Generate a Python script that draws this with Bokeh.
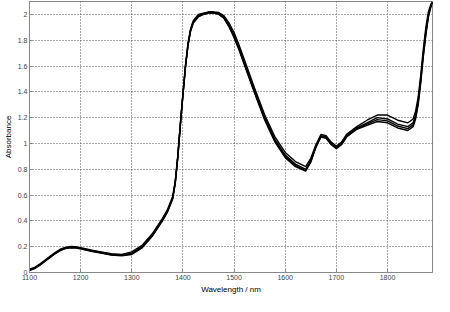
from bokeh.plotting import figure
from bokeh.models import FixedTicker, Range1d
from bokeh.embed import file_html
from bokeh.resources import INLINE

wavelength = [1100, 1110, 1120, 1130, 1140, 1150, 1160, 1170, 1180, 1190, 1200, 1220, 1240, 1260, 1280,
              1300, 1320, 1340, 1360, 1370, 1380, 1385, 1390, 1395, 1400, 1405, 1410, 1415, 1420, 1430,
              1440, 1450, 1460, 1470, 1480, 1490, 1500, 1510, 1520, 1540, 1560, 1580, 1600, 1620, 1640,
              1650, 1660, 1670, 1680, 1690, 1700, 1710, 1720, 1740, 1760, 1780, 1800, 1820, 1840, 1850,
              1855, 1860, 1865, 1870, 1875, 1880, 1885, 1888]

spectrum_upper = [0.025, 0.04, 0.065, 0.095, 0.125, 0.155, 0.18, 0.195, 0.202, 0.2, 0.193, 0.175, 0.16, 0.145, 0.14,
                  0.16, 0.21, 0.30, 0.42, 0.49, 0.59, 0.71, 0.91, 1.16, 1.39, 1.61, 1.78, 1.89, 1.95, 2.0,
                  2.01, 2.02, 2.02, 2.015, 1.99, 1.935, 1.86, 1.76, 1.65, 1.43, 1.22, 1.05, 0.93, 0.86, 0.82,
                  0.885, 0.99, 1.07, 1.06, 1.01, 0.98, 1.01, 1.07, 1.13, 1.18, 1.22, 1.22, 1.18, 1.16, 1.19,
                  1.25, 1.36, 1.53, 1.73, 1.9, 2.02, 2.08, 2.1]

spectrum_mid_a = [0.02, 0.035, 0.06, 0.09, 0.12, 0.15, 0.175, 0.19, 0.197, 0.195, 0.188, 0.17, 0.155, 0.14, 0.135,
                  0.15, 0.2, 0.29, 0.41, 0.48, 0.58, 0.7, 0.9, 1.15, 1.38, 1.6, 1.77, 1.88, 1.94, 1.99,
                  2.005, 2.015, 2.015, 2.01, 1.98, 1.92, 1.84, 1.74, 1.63, 1.41, 1.2, 1.03, 0.91, 0.84, 0.80,
                  0.87, 0.98, 1.06, 1.05, 1.0, 0.97, 1.0, 1.06, 1.12, 1.16, 1.2, 1.19, 1.15, 1.13, 1.16,
                  1.22, 1.33, 1.5, 1.7, 1.87, 2.0, 2.07, 2.1]

spectrum_mid_b = [0.02, 0.033, 0.058, 0.088, 0.118, 0.148, 0.172, 0.188, 0.195, 0.193, 0.186, 0.168, 0.153, 0.138, 0.133,
                  0.145, 0.195, 0.285, 0.405, 0.475, 0.575, 0.695, 0.895, 1.145, 1.375, 1.595, 1.765, 1.875, 1.935, 1.985,
                  2.0, 2.01, 2.012, 2.005, 1.975, 1.91, 1.83, 1.73, 1.62, 1.40, 1.19, 1.02, 0.90, 0.83, 0.79,
                  0.86, 0.975, 1.055, 1.045, 0.995, 0.965, 0.995, 1.055, 1.115, 1.15, 1.185, 1.175, 1.135, 1.115, 1.145,
                  1.205, 1.315, 1.485, 1.685, 1.855, 1.99, 2.065, 2.095]

spectrum_lower = [0.015, 0.03, 0.055, 0.085, 0.115, 0.145, 0.17, 0.185, 0.192, 0.19, 0.183, 0.165, 0.15, 0.135, 0.13,
                  0.14, 0.19, 0.28, 0.40, 0.47, 0.57, 0.69, 0.89, 1.14, 1.37, 1.59, 1.76, 1.87, 1.93, 1.98,
                  2.0, 2.01, 2.01, 2.0, 1.97, 1.905, 1.82, 1.72, 1.61, 1.39, 1.18, 1.01, 0.89, 0.82, 0.785,
                  0.855, 0.97, 1.05, 1.04, 0.99, 0.96, 0.99, 1.05, 1.11, 1.14, 1.17, 1.16, 1.12, 1.1, 1.13,
                  1.19, 1.3, 1.47, 1.67, 1.84, 1.98, 2.06, 2.09]

x_ticks = [1100, 1200, 1300, 1400, 1500, 1600, 1700, 1800]
y_ticks = [0, 0.2, 0.4, 0.6, 0.8, 1, 1.2, 1.4, 1.6, 1.8, 2]
y_tick_labels = ["0", "0.2", "0.4", "0.6", "0.8", "1", "1.2", "1.4", "1.6", "1.8", "2"]

p = figure(width=434, height=296, output_backend="svg", toolbar_location=None,
           x_range=Range1d(1100, 1888), y_range=Range1d(0, 2.1))
p.min_border_left = 19
p.min_border_right = 2
p.min_border_top = 1
p.min_border_bottom = 10

for s in [spectrum_upper, spectrum_mid_a, spectrum_mid_b, spectrum_lower]:
    p.line(wavelength, s, line_color="black", line_width=1.4)

p.xaxis.ticker = FixedTicker(ticks=x_ticks)
p.yaxis.ticker = FixedTicker(ticks=y_ticks)
p.yaxis.major_label_overrides = {t: l for t, l in zip(y_ticks, y_tick_labels)}

for ax in [p.xaxis[0], p.yaxis[0]]:
    ax.major_tick_in = 3
    ax.major_tick_out = 0
    ax.minor_tick_in = 0
    ax.minor_tick_out = 0
    ax.axis_line_color = "#888888"
    ax.major_tick_line_color = "#888888"
    ax.major_label_text_font = "Liberation Sans"
    ax.major_label_text_font_size = "7px"
    ax.major_label_text_color = "#444444"
    ax.axis_label_text_font = "Liberation Sans"
    ax.axis_label_text_font_size = "8px"
    ax.axis_label_text_font_style = "normal"
    ax.axis_label_text_color = "black"
    ax.major_label_standoff = 2
    ax.axis_label_standoff = 2

p.xaxis.axis_label = "Wavelength / nm"
p.yaxis.axis_label = "Absorbance"

p.xgrid.grid_line_color = "#555555"
p.ygrid.grid_line_color = "#555555"
p.xgrid.grid_line_dash = "1 2"
p.ygrid.grid_line_dash = "1 2"
p.xgrid.grid_line_width = 1
p.ygrid.grid_line_width = 1

p.outline_line_color = "#888888"
p.background_fill_color = "white"
p.border_fill_color = "white"

open("out.html", "w").write(file_html(p, INLINE))
